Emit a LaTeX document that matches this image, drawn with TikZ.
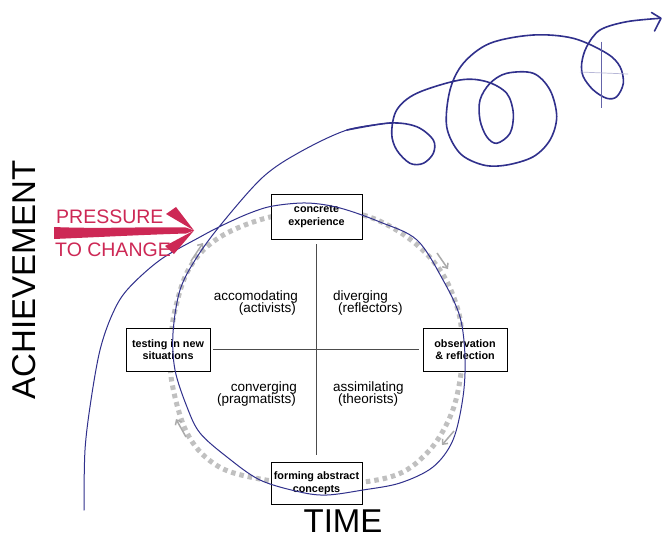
\documentclass[tikz,border=0pt]{standalone}
\usepackage{fontspec}
\setmainfont{Liberation Sans}
\usetikzlibrary{arrows.meta}
\definecolor{pen}{RGB}{48,48,140}
\definecolor{crim}{RGB}{205,40,85}
\definecolor{dotgray}{RGB}{192,192,192}
\definecolor{flowgray}{RGB}{170,170,170}
\begin{document}
\begin{tikzpicture}[x=1pt,y=-1pt,
  box/.style={draw=black, line width=0.9pt, fill=white, align=center, inner sep=0pt,
    font=\bfseries\fontsize{10.8}{12.5}\selectfont},
  quad/.style={inner sep=0pt, font=\fontsize{13.5}{12}\selectfont},
  axisline/.style={draw=black!70, line width=0.9pt},
  flow/.style={draw=flowgray, line width=1.5pt, -{Straight Barb[length=4pt,width=7pt]}},
  big/.style={inner sep=0pt, font=\fontsize{33}{33}\selectfont},
  redtext/.style={inner sep=0pt, text=crim, font=\fontsize{19.5}{20}\selectfont}]
\useasboundingbox (0,0) rectangle (663,539);
\fill[white] (0,0) rectangle (663,539);

% gray dotted cycle
\draw[dotgray, line width=5pt, dash pattern=on 4.5pt off 4pt]
  plot[smooth cycle, tension=0.6] coordinates {(317,213) (363,215) (407,237) (440,270) (458,310)
  (462,345) (460,380) (450,417) (427,453) (390,477) (317,485) (250,477) (213,463)
  (187,433) (172,383) (171,345) (175,310) (190,267) (220,237) (270,217)};

% flow arrows
\coordinate (f1a) at (191,261); \coordinate (f1b) at (203,243);
\coordinate (f2a) at (437,253); \coordinate (f2b) at (448,269);
\coordinate (f3a) at (454,431); \coordinate (f3b) at (442,445);
\coordinate (f4a) at (186,437); \coordinate (f4b) at (176,419);
\draw[flow] (f1a) -- (f1b);
\draw[flow] (f2a) -- (f2b);
\draw[flow] (f3a) -- (f3b);
\draw[flow] (f4a) -- (f4b);

% boxes
\node[box, minimum width=91pt, minimum height=45pt] (ce) at (316.5,216.5) {concrete\\experience};
\node[box, minimum width=84pt, minimum height=43pt] (tn) at (168,349.5) {testing in new\\situations};
\node[box, minimum width=84pt, minimum height=43pt] (or) at (465,349.5) {observation\\\& reflection};
\node[box, minimum width=91pt, minimum height=42pt] (fa) at (316.5,483) {forming abstract\\concepts};

% axes
\draw[axisline, shorten <=5pt, shorten >=7pt] (ce.south) -- (fa.north);
\draw[axisline, shorten <=3pt, shorten >=4pt] (tn.east) -- (or.west);

% quadrant texts
\node[quad, anchor=base east] (q1a) at (298,300) {accomodating};
\node[quad, anchor=base east] (q1b) at (296,312) {(activists)};
\node[quad, anchor=base west] (q2a) at (333,300) {diverging};
\node[quad, anchor=base west] (q2b) at (338,312) {(reflectors)};
\node[quad, anchor=base east] (q3a) at (297,391) {converging};
\node[quad, anchor=base east] (q3b) at (296,403) {(pragmatists)};
\node[quad, anchor=base west] (q4a) at (333,391) {assimilating};
\node[quad, anchor=base west] (q4b) at (338,403) {(theorists)};

% axis titles
\node[big, rotate=90] (ach) at (24,280) {ACHIEVEMENT};
\node[big, anchor=base] (time) at (343,532) {TIME};

% blue pen path
\draw[pen, line width=1pt, line cap=round]
  plot[smooth, tension=0.55] coordinates {(84,510) (85,450) (91,400) (100,350) (112,315) (127,290)
  (160,260) (200,237) (223,225) (250,213) (273,206) (307,203) (340,208) (380,222) (417,240)
  (443,280) (460,317) (465,357) (463,397) (453,440) (433,467) (400,483) (363,490) (327,495)
  (300,492) (260,480) (227,457) (200,433) (187,407) (175,370) (173,333) (180,290) (197,257)
  (223,222) (263,177) (300,152) (347,130) (390,123)};
\draw[pen, line width=1.6pt, line cap=round, line join=round]
  plot[smooth, tension=0.55] coordinates {(347,130) (390,123) (416.7,126.7) (433.3,140) (433.3,153.3)
  (423.3,163.3) (410,163.3) (396.7,150) (391.7,133.3) (396.7,110) (416.7,93.3) (460,80)
  (486.7,81.7) (506.7,93.3) (513.3,113.3) (510,133.3) (496.7,143.3) (486.7,136.7) (480,120)
  (480,100) (490,83.3) (506.7,73.3) (533.3,73.3) (550,90) (556.7,116.7) (550,140) (533.3,156.7)
  (506.7,165) (483.3,165) (460,153.3) (446.7,126.7) (450,90) (463.3,63.3) (490,43.3) (533.3,35)
  (573.3,38.3) (606.7,53.3) (620,66.7) (623.3,83.3) (616.7,96.7) (606.7,98.3) (593.3,90)
  (583.3,76.7) (581.7,63.3) (586.7,46.7) (600,30) (626.7,21.7) (660,18.3)};
\draw[pen, line width=1.6pt, line cap=round, line join=round] (651.5,12.5) -- (661,18.3) -- (654.5,31);
% crosshair
\draw[pen!75, line width=0.8pt] (601.7,41.7) -- (601.7,108.3);
\draw[pen!35, line width=0.7pt] (580,72) -- (628,74);

% red pressure arrow
\fill[crim] (54,227) .. controls (100,229) and (150,226.5) .. (186,227.5) -- (194,230.5)
  -- (186,233.5) .. controls (150,234.5) and (100,237) .. (54,239) -- cycle;
\fill[crim] (166,214) -- (176,207) -- (194,230.5) -- cycle;
\fill[crim] (165,246) -- (174,254) -- (194,230.5) -- cycle;
\node[redtext, anchor=base west] (pr) at (56,223) {PRESSURE};
\node[redtext, anchor=base west] (tc) at (55,256) {TO CHANGE};
\end{tikzpicture}
\end{document}
